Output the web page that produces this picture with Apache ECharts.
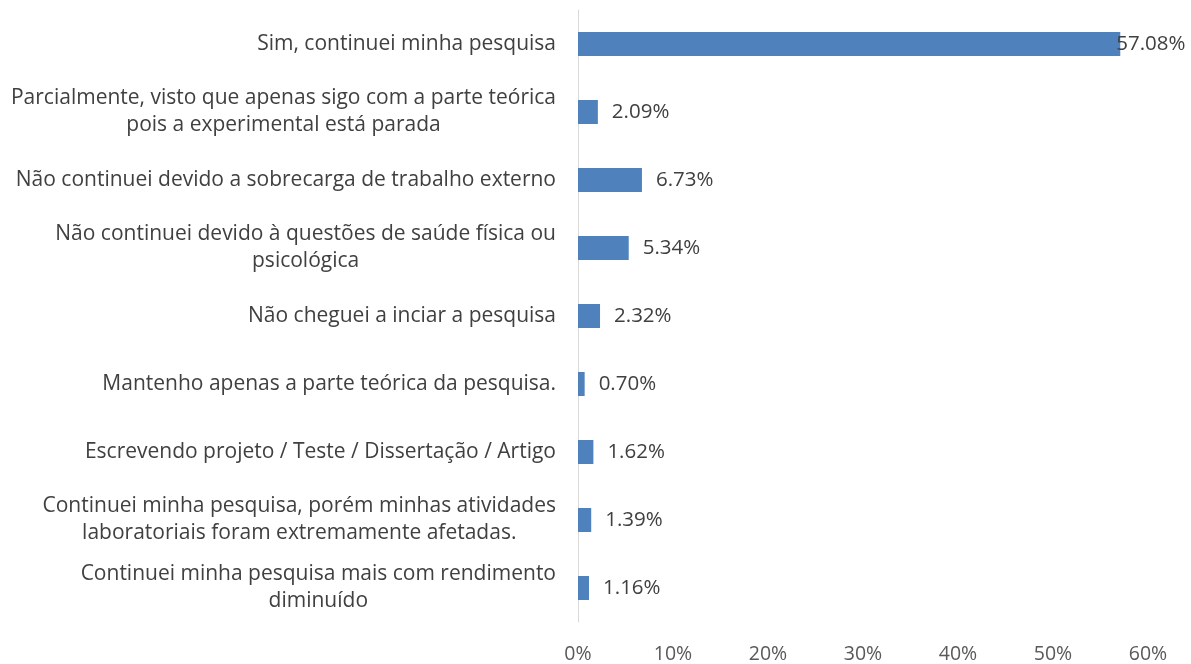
<!DOCTYPE html>
<html>
<head>
<meta charset="utf-8">
<script src="https://cdn.jsdelivr.net/npm/echarts@6/dist/echarts.min.js"></script>
<style>
  html, body { margin: 0; padding: 0; background: #fff; }
  #main { width: 1191px; height: 664px; }
</style>
</head>
<body>
<div id="main"></div>
<script>
// respostas, na ordem do gráfico (de cima para baixo)
var categorias = [
    'Sim, continuei minha pesquisa',
    'Parcialmente, visto que apenas sigo com a parte teórica\npois a experimental está parada',
    'Não continuei devido a sobrecarga de trabalho externo',
    'Não continuei devido à questões de saúde física ou\npsicológica',
    'Não cheguei a inciar a pesquisa',
    'Mantenho apenas a parte teórica da pesquisa.',
    'Escrevendo projeto / Teste / Dissertação / Artigo',
    'Continuei minha pesquisa, porém minhas atividades\nlaboratoriais foram extremamente afetadas.',
    'Continuei minha pesquisa mais com rendimento\ndiminuído'
];
var percentuais = [57.08, 2.09, 6.73, 5.34, 2.32, 0.70, 1.62, 1.39, 1.16];
var eixoMax = 60;
var eixoPasso = 10;

var fonte = '"Open Sans", Lato, sans-serif';
var myChart = echarts.init(document.getElementById('main'));

var option = {
    animation: false,
    grid: {
        left: 578,
        right: 43,
        top: 10,
        bottom: 40,
        containLabel: false
    },
    xAxis: {
        type: 'value',
        min: 0,
        max: eixoMax,
        interval: eixoPasso,
        axisLine: { show: false },
        axisTick: { show: false },
        splitLine: { show: false },
        axisLabel: {
            margin: 22,
            color: '#595959',
            fontFamily: fonte,
            fontSize: 19.5,
            formatter: '{value}%'
        }
    },
    yAxis: {
        type: 'category',
        inverse: true,
        data: categorias,
        axisLine: { show: true, lineStyle: { color: '#d9d9d9', width: 1 } },
        axisTick: { show: false },
        axisLabel: {
            margin: 22,
            align: 'right',
            // linhas centralizadas entre si, bloco alinhado à direita (como no Excel)
            formatter: function (s) {
                return s.split('\n').map(function (l) { return '{c|' + l + '}'; }).join('\n');
            },
            rich: {
                c: {
                    align: 'center',
                    color: '#404040',
                    fontFamily: fonte,
                    fontSize: 21,
                    lineHeight: 27
                }
            }
        }
    },
    series: [
        {
            type: 'bar',
            barWidth: 24,
            itemStyle: { color: '#4f81bd' },
            label: {
                show: true,
                position: 'right',
                distance: 14,
                color: '#404040',
                fontFamily: fonte,
                fontSize: 20.5,
                formatter: function (p) { return p.value.toFixed(2) + '%'; }
            },
            data: percentuais.map(function (v) {
                // rótulo da barra maior fica colado no fim (como no Excel)
                return v > 50 ? { value: v, label: { distance: -4 } } : v;
            })
        }
    ]
};
myChart.setOption(option);
</script>
</body>
</html>
